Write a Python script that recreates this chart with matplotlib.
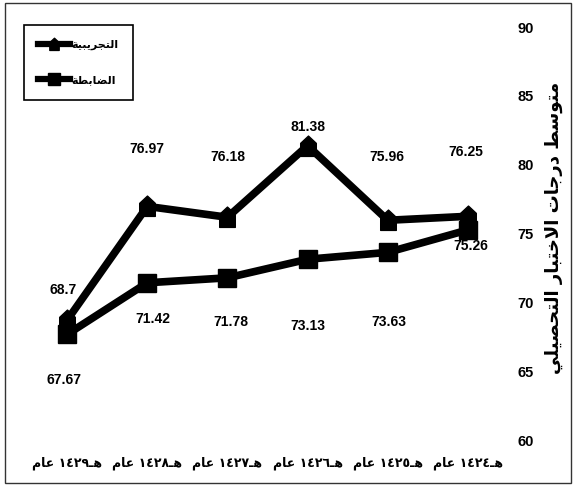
import re
import matplotlib
matplotlib.use("Agg")
import matplotlib.pyplot as plt
from matplotlib.path import Path
from matplotlib.patches import Rectangle

# ---- data -------------------------------------------------------------
years = ["١٤٢٩", "١٤٢٨", "١٤٢٧", "١٤٢٦", "١٤٢٥", "١٤٢٤"]
experimental = [68.7, 76.97, 76.18, 81.38, 75.96, 76.25]
control = [67.67, 71.42, 71.78, 73.13, 73.63, 75.26]
experimental_name = "التجريبية"
control_name = "الضابطة"
y_title = "متوسط درجات الاختبار التحصيلي"
year_word = "عام"
hijri_suffix = "هـ"
y_ticks = [60, 65, 70, 75, 80, 85, 90]

# ---- minimal Arabic shaping (contextual forms + visual order) ----------
FORMS = {
    "ا": (0xFE8D, 0xFE8E, None, None),
    "ب": (0xFE8F, 0xFE90, 0xFE91, 0xFE92),
    "ة": (0xFE93, 0xFE94, None, None),
    "ت": (0xFE95, 0xFE96, 0xFE97, 0xFE98),
    "ج": (0xFE9D, 0xFE9E, 0xFE9F, 0xFEA0),
    "ح": (0xFEA1, 0xFEA2, 0xFEA3, 0xFEA4),
    "خ": (0xFEA5, 0xFEA6, 0xFEA7, 0xFEA8),
    "د": (0xFEA9, 0xFEAA, None, None),
    "ر": (0xFEAD, 0xFEAE, None, None),
    "س": (0xFEB1, 0xFEB2, 0xFEB3, 0xFEB4),
    "ص": (0xFEB9, 0xFEBA, 0xFEBB, 0xFEBC),
    "ض": (0xFEBD, 0xFEBE, 0xFEBF, 0xFEC0),
    "ط": (0xFEC1, 0xFEC2, 0xFEC3, 0xFEC4),
    "ع": (0xFEC9, 0xFECA, 0xFECB, 0xFECC),
    "ل": (0xFEDD, 0xFEDE, 0xFEDF, 0xFEE0),
    "م": (0xFEE1, 0xFEE2, 0xFEE3, 0xFEE4),
    "ه": (0xFEE9, 0xFEEA, 0xFEEB, 0xFEEC),
    "و": (0xFEED, 0xFEEE, None, None),
    "ي": (0xFEF1, 0xFEF2, 0xFEF3, 0xFEF4),
    "LA": (0xFEFB, 0xFEFC, None, None),
    "ـ": (0x0640, 0x0640, 0x0640, 0x0640),
}


def shape(text):
    chars, i = [], 0
    while i < len(text):
        if text[i] == "ل" and i + 1 < len(text) and text[i + 1] == "ا":
            chars.append("LA")
            i += 2
        else:
            chars.append(text[i])
            i += 1
    out = []
    for k, c in enumerate(chars):
        if c not in FORMS:
            out.append(c)
            continue
        iso, fin, ini, med = FORMS[c]
        prev = chars[k - 1] if k > 0 else None
        nxt = chars[k + 1] if k + 1 < len(chars) else None
        jp = prev in FORMS and FORMS[prev][2] is not None
        jn = ini is not None and nxt in FORMS
        f = med if (jp and jn) else fin if jp else ini if jn else iso
        out.append(chr(f))
    runs = re.findall(r"[0-9\u0660-\u0669.]+|[^0-9\u0660-\u0669.]+", "".join(out))
    return "".join(r if re.match(r"[0-9\u0660-\u0669.]", r) else r[::-1]
                   for r in reversed(runs))


plt.rcParams["font.family"] = ["Liberation Sans Narrow", "Liberation Sans", "DejaVu Sans"]
plt.rcParams["font.weight"] = "bold"

fig = plt.figure(figsize=(5.73, 4.86), dpi=100)
W, H = 573, 486
ax = fig.add_axes([27 / W, 1 - 440 / H, (508 - 27) / W, (440 - 27) / H])

x = list(range(len(years)))

house = Path([(0, 1.0), (0.75, 0.3), (0.75, -0.95), (-0.75, -0.95), (-0.75, 0.3), (0, 1.0)],
             [Path.MOVETO, Path.LINETO, Path.LINETO, Path.LINETO, Path.LINETO, Path.CLOSEPOLY])

ax.plot(x, experimental, color="black", lw=5.5, marker=house, ms=15,
        solid_joinstyle="miter", label=shape(experimental_name), zorder=3)
ax.plot(x, control, color="black", lw=5.5, marker="s", ms=13,
        solid_joinstyle="miter", label=shape(control_name), zorder=3)

# label offsets in pixels
exp_off = [(-4, 30), (0, 57), (0, 60), (0, 19), (-1, 63), (-2, 64)]
ctl_off = [(-3, -46), (6, -36), (3, -44), (0, -67), (1, -70), (3, -16)]
for xi, v, o in zip(x, experimental, exp_off):
    ax.annotate(f"{v:g}", (xi, v), xytext=o, textcoords="offset pixels",
                ha="center", va="center", fontsize=10, fontweight="bold")
for xi, v, o in zip(x, control, ctl_off):
    ax.annotate(f"{v:g}", (xi, v), xytext=o, textcoords="offset pixels",
                ha="center", va="center", fontsize=10, fontweight="bold")

ax.set_xlim(-0.5, len(years) - 0.5)
ax.set_ylim(60, 90)
ax.set_yticks(y_ticks)
ax.yaxis.tick_right()
ax.tick_params(axis="y", length=0, pad=7, labelsize=10.5)
ax.tick_params(axis="x", length=0, pad=12, labelsize=9)
ax.set_xticks(x)
ax.set_xticklabels([f"{shape(year_word)} {y}{shape(hijri_suffix)}" for y in years],
                   family=["DejaVu Sans"], fontweight="bold")
for s in ax.spines.values():
    s.set_visible(False)

fig.text(554 / W, 1 - 228 / H, shape(y_title), rotation=90, ha="center", va="center",
         fontsize=13, fontweight="bold", family=["DejaVu Sans"])

leg = ax.legend(loc="upper left", bbox_to_anchor=(24 / W, 1 - 25 / H),
                bbox_transform=fig.transFigure, borderaxespad=0, fancybox=False,
                edgecolor="black", framealpha=1, handlelength=2.8, handletextpad=0.15,
                labelspacing=2.3, borderpad=1.3,
                prop={"family": ["DejaVu Sans"], "size": 8, "weight": "bold"})
leg.get_frame().set_linewidth(1.2)
for h in leg.legend_handles:
    h.set_markersize(9)
    h.set_linewidth(4.5)

fig.patches.append(Rectangle((5 / W, 1 - 483 / H), (571 - 5) / W, (483 - 3) / H,
                             transform=fig.transFigure, fill=False, edgecolor="#333333",
                             lw=1.0))

fig.savefig("out.png", dpi=100)
